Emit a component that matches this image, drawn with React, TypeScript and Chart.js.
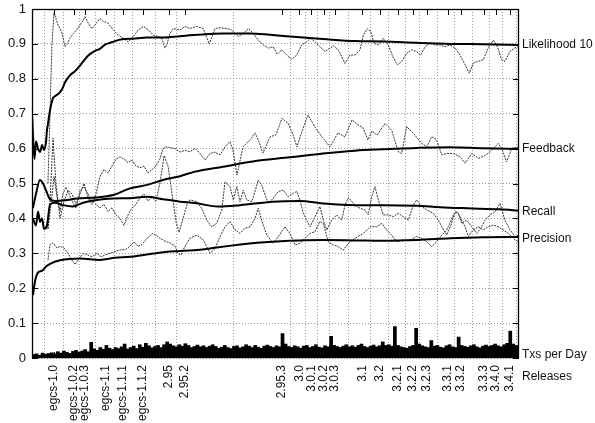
import React, { useEffect, useRef } from "react";
import { Chart, registerables } from "chart.js";

Chart.register(...registerables);

// x axis: days since 1997-08-09
const START_DATE = "1997-08-09";
const END_DAY = 2566;

const releaseNames = [
  "egcs-1.0", "egcs-1.0.2", "egcs-1.0.3", "egcs-1.1", "egcs-1.1.1", "egcs-1.1.2",
  "2.95", "2.95.2", "2.95.3", "3.0", "3.0.1", "3.0.2", "3.0.3", "3.1", "3.2",
  "3.2.1", "3.2.2", "3.2.3", "3.3.1", "3.3.2", "3.3.3", "3.4.0", "3.4.1",
];
const releaseDates = [
  "1997-12-03", "1998-03-16", "1998-05-15", "1998-09-03", "1998-12-01", "1999-03-15",
  "1999-07-31", "1999-10-24", "2001-03-16", "2001-06-18", "2001-08-20", "2001-10-25",
  "2001-12-20", "2002-05-15", "2002-08-14", "2002-11-19", "2003-02-05", "2003-04-22",
  "2003-08-08", "2003-10-17", "2004-02-14", "2004-04-18", "2004-07-01",
];

const yTickValues = [0, 0.1, 0.2, 0.3, 0.4, 0.5, 0.6, 0.7, 0.8, 0.9, 1];

// [day, value]
const likelihoodSmooth: [number, number][] = [
  [0, 0.70], [5, 0.64], [13, 0.57], [21, 0.62], [32, 0.60], [42, 0.59], [53, 0.61], [63, 0.596],
  [74, 0.62], [79, 0.653], [84, 0.67], [95, 0.71], [111, 0.745], [121, 0.75], [148, 0.762],
  [163, 0.775], [174, 0.79], [200, 0.81], [227, 0.822], [253, 0.838], [295, 0.866], [332, 0.88],
  [358, 0.886], [385, 0.898], [411, 0.903], [437, 0.908], [474, 0.913], [532, 0.915], [606, 0.918],
  [690, 0.918], [780, 0.922], [869, 0.926], [1006, 0.930], [1149, 0.930], [1254, 0.926],
  [1359, 0.921], [1533, 0.914], [1702, 0.908], [1849, 0.907], [2029, 0.903], [2203, 0.900],
  [2376, 0.899], [2566, 0.897],
];
const feedbackSmooth: [number, number][] = [
  [5, 0.43], [21, 0.47], [42, 0.51], [58, 0.50], [74, 0.48], [95, 0.455], [121, 0.45], [174, 0.452],
  [237, 0.457], [337, 0.46], [427, 0.467], [516, 0.486], [606, 0.496], [690, 0.51], [780, 0.521],
  [859, 0.534], [1006, 0.548], [1186, 0.565], [1359, 0.575], [1533, 0.586], [1702, 0.594],
  [1849, 0.598], [2029, 0.602], [2203, 0.604], [2376, 0.601], [2566, 0.599],
];
const recallSmooth: [number, number][] = [
  [5, 0.40], [21, 0.38], [32, 0.42], [42, 0.39], [53, 0.40], [63, 0.37], [79, 0.38], [95, 0.44],
  [121, 0.445], [163, 0.438], [216, 0.434], [269, 0.445], [342, 0.453], [427, 0.457], [516, 0.458],
  [606, 0.462], [690, 0.455], [780, 0.448], [859, 0.444], [980, 0.434], [1096, 0.438], [1270, 0.448],
  [1412, 0.45], [1533, 0.443], [1702, 0.438], [1849, 0.438], [2029, 0.436], [2150, 0.432],
  [2292, 0.429], [2466, 0.426], [2566, 0.422],
];
const precisionSmooth: [number, number][] = [
  [5, 0.18], [16, 0.22], [32, 0.245], [53, 0.25], [74, 0.262], [95, 0.27], [148, 0.28], [253, 0.285],
  [358, 0.281], [437, 0.287], [516, 0.29], [622, 0.298], [727, 0.305], [885, 0.31], [938, 0.314],
  [1186, 0.33], [1359, 0.336], [1533, 0.338], [1702, 0.337], [1849, 0.336], [2029, 0.338],
  [2203, 0.343], [2376, 0.346], [2566, 0.347],
];

const likelihoodRaw: [number, number][] = [
  [84, 0.50], [95, 0.70], [105, 0.90], [116, 0.99], [126, 0.973], [137, 0.954], [156, 0.935],
  [174, 0.892], [186, 0.902], [200, 0.916], [218, 0.93], [236, 0.94], [253, 0.954], [270, 0.968],
  [279, 0.978], [297, 0.959], [315, 0.944], [332, 0.954], [358, 0.973], [376, 0.964], [402, 0.959],
  [428, 0.94], [455, 0.925], [481, 0.916], [507, 0.906], [534, 0.921], [560, 0.94], [586, 0.95],
  [613, 0.94], [639, 0.925], [665, 0.921], [683, 0.916], [701, 0.888], [710, 0.897], [727, 0.93],
  [744, 0.944], [780, 0.94], [806, 0.95], [832, 0.944], [868, 0.95], [903, 0.944], [934, 0.899],
  [964, 0.944], [991, 0.946], [1026, 0.944], [1052, 0.94], [1087, 0.921], [1113, 0.93],
  [1140, 0.944], [1166, 0.93], [1192, 0.911], [1219, 0.897], [1245, 0.888], [1271, 0.892],
  [1292, 0.870], [1316, 0.883], [1342, 0.868], [1368, 0.856], [1395, 0.868], [1421, 0.897],
  [1447, 0.906], [1468, 0.916], [1491, 0.906], [1517, 0.892], [1544, 0.878], [1570, 0.888],
  [1591, 0.895], [1619, 0.878], [1649, 0.844], [1675, 0.868], [1702, 0.868], [1728, 0.883],
  [1746, 0.925], [1767, 0.944], [1785, 0.935], [1802, 0.902], [1825, 0.897], [1851, 0.916],
  [1877, 0.897], [1901, 0.864], [1925, 0.84], [1948, 0.85], [1974, 0.873], [2001, 0.883],
  [2027, 0.878], [2048, 0.868], [2071, 0.892], [2097, 0.902], [2123, 0.897], [2150, 0.897],
  [2176, 0.892], [2202, 0.897], [2229, 0.888], [2255, 0.868], [2282, 0.84], [2304, 0.816],
  [2325, 0.845], [2352, 0.85], [2378, 0.855], [2404, 0.888], [2431, 0.911], [2452, 0.892],
  [2475, 0.854], [2492, 0.85], [2518, 0.878], [2545, 0.889], [2562, 0.892],
];

const feedbackRaw: [number, number][] = [
  [84, 0.37], [95, 0.45], [111, 0.63], [126, 0.50], [148, 0.40], [169, 0.45], [190, 0.48], [211, 0.47],
  [232, 0.44], [253, 0.47], [274, 0.50], [295, 0.46], [316, 0.44], [337, 0.47], [358, 0.52],
  [379, 0.54], [400, 0.53], [421, 0.55], [443, 0.57], [464, 0.576], [485, 0.57], [506, 0.56],
  [527, 0.567], [548, 0.55], [569, 0.545], [590, 0.55], [611, 0.53], [632, 0.54], [653, 0.55],
  [674, 0.57], [690, 0.60], [706, 0.605], [727, 0.603], [754, 0.60], [780, 0.59], [806, 0.595],
  [832, 0.591], [859, 0.601], [885, 0.586], [912, 0.567], [938, 0.586], [964, 0.59], [991, 0.582],
  [1017, 0.605], [1043, 0.62], [1059, 0.596], [1080, 0.524], [1112, 0.605], [1149, 0.625],
  [1175, 0.645], [1196, 0.62], [1217, 0.587], [1254, 0.633], [1286, 0.64], [1317, 0.687],
  [1349, 0.673], [1375, 0.64], [1396, 0.605], [1423, 0.65], [1454, 0.696], [1491, 0.662],
  [1528, 0.633], [1570, 0.605], [1612, 0.645], [1649, 0.633], [1686, 0.682], [1718, 0.668],
  [1744, 0.66], [1770, 0.625], [1791, 0.65], [1818, 0.639], [1860, 0.672], [1895, 0.653],
  [1930, 0.591], [1948, 0.586], [1974, 0.663], [2009, 0.644], [2053, 0.615], [2080, 0.605],
  [2106, 0.634], [2132, 0.625], [2159, 0.582], [2185, 0.586], [2220, 0.586], [2255, 0.577],
  [2282, 0.558], [2317, 0.586], [2352, 0.572], [2387, 0.58], [2413, 0.591], [2457, 0.615],
  [2475, 0.6], [2501, 0.562], [2528, 0.601], [2562, 0.605],
];

const recallRaw: [number, number][] = [
  [84, 0.37], [100, 0.44], [116, 0.52], [132, 0.46], [148, 0.42], [163, 0.47], [179, 0.49], [195, 0.47],
  [211, 0.45], [232, 0.43], [253, 0.48], [274, 0.49], [295, 0.47], [316, 0.45], [337, 0.44],
  [358, 0.43], [379, 0.44], [400, 0.42], [421, 0.43], [443, 0.41], [464, 0.40], [485, 0.38],
  [506, 0.41], [527, 0.43], [548, 0.44], [569, 0.46], [590, 0.47], [611, 0.45], [632, 0.46],
  [653, 0.45], [674, 0.50], [696, 0.58], [717, 0.55], [738, 0.47], [759, 0.39], [775, 0.36],
  [796, 0.40], [817, 0.44], [832, 0.453], [868, 0.448], [894, 0.429], [921, 0.395], [947, 0.376],
  [973, 0.386], [1000, 0.424], [1017, 0.505], [1043, 0.491], [1061, 0.453], [1079, 0.491],
  [1096, 0.448], [1113, 0.481], [1131, 0.453], [1158, 0.448], [1175, 0.477], [1192, 0.51],
  [1210, 0.496], [1228, 0.467], [1245, 0.443], [1271, 0.458], [1298, 0.477], [1324, 0.481],
  [1350, 0.462], [1377, 0.472], [1395, 0.477], [1412, 0.453], [1429, 0.415], [1447, 0.395],
  [1465, 0.376], [1491, 0.405], [1517, 0.434], [1535, 0.395], [1553, 0.367], [1579, 0.395],
  [1605, 0.41], [1632, 0.395], [1649, 0.438], [1667, 0.46], [1702, 0.438], [1728, 0.429],
  [1755, 0.424], [1772, 0.41], [1790, 0.462], [1807, 0.491], [1825, 0.453], [1851, 0.41],
  [1877, 0.41], [1904, 0.405], [1930, 0.415], [1956, 0.405], [1983, 0.395], [2009, 0.438],
  [2027, 0.453], [2053, 0.434], [2080, 0.424], [2114, 0.415], [2141, 0.395], [2159, 0.376],
  [2185, 0.352], [2211, 0.386], [2229, 0.419], [2246, 0.415], [2264, 0.386], [2290, 0.395],
  [2317, 0.376], [2343, 0.357], [2369, 0.376], [2387, 0.395], [2413, 0.41], [2440, 0.419],
  [2466, 0.443], [2492, 0.395], [2518, 0.367], [2545, 0.348], [2562, 0.352],
];

const precisionRaw: [number, number][] = [
  [84, 0.28], [95, 0.325], [111, 0.33], [132, 0.315], [148, 0.32], [169, 0.315], [190, 0.30],
  [211, 0.28], [227, 0.268], [248, 0.285], [269, 0.30], [295, 0.295], [316, 0.29], [342, 0.30],
  [364, 0.29], [385, 0.295], [411, 0.30], [437, 0.305], [464, 0.31], [490, 0.31], [516, 0.32],
  [537, 0.333], [558, 0.32], [580, 0.325], [601, 0.34], [622, 0.35], [637, 0.357], [659, 0.35],
  [674, 0.343], [701, 0.335], [727, 0.33], [754, 0.32], [769, 0.30], [785, 0.295], [806, 0.32],
  [832, 0.343], [868, 0.352], [903, 0.338], [938, 0.30], [964, 0.314], [991, 0.348], [1017, 0.376],
  [1043, 0.391], [1070, 0.367], [1096, 0.357], [1122, 0.372], [1149, 0.376], [1175, 0.40],
  [1192, 0.429], [1210, 0.395], [1237, 0.352], [1271, 0.329], [1298, 0.348], [1333, 0.376],
  [1359, 0.357], [1386, 0.324], [1412, 0.329], [1438, 0.343], [1465, 0.357], [1491, 0.362],
  [1517, 0.391], [1535, 0.386], [1561, 0.333], [1588, 0.324], [1614, 0.319], [1640, 0.309],
  [1667, 0.329], [1702, 0.343], [1746, 0.357], [1781, 0.376], [1816, 0.376], [1843, 0.386],
  [1869, 0.367], [1895, 0.352], [1922, 0.333], [1956, 0.338], [1992, 0.338], [2027, 0.348],
  [2053, 0.343], [2080, 0.333], [2106, 0.319], [2132, 0.333], [2159, 0.352], [2185, 0.367],
  [2202, 0.386], [2220, 0.41], [2238, 0.419], [2255, 0.405], [2282, 0.376], [2299, 0.348],
  [2325, 0.367], [2352, 0.376], [2378, 0.367], [2404, 0.376], [2431, 0.381], [2457, 0.376],
  [2483, 0.367], [2510, 0.357], [2536, 0.343], [2562, 0.333],
];

// transactions per day, one value per 16-day bin
const TXS_BIN_DAYS = 16;
const txsPerDay = [
  0.010, 0.012, 0.008, 0.014, 0.011, 0.013,
  0.015, 0.012, 0.018, 0.014, 0.020, 0.016, 0.013, 0.019, 0.022, 0.017,
  0.020, 0.024, 0.018, 0.045, 0.026, 0.022, 0.030, 0.025, 0.036,
  0.028, 0.024, 0.030, 0.027, 0.032, 0.040,
  0.026, 0.030, 0.034, 0.027, 0.038, 0.031, 0.042,
  0.035, 0.029, 0.033, 0.036, 0.030, 0.038, 0.046,
  0.040, 0.035, 0.032, 0.038, 0.034, 0.041, 0.036, 0.030, 0.033, 0.037,
  0.032, 0.035, 0.030, 0.034, 0.038, 0.033, 0.028, 0.031, 0.036, 0.030,
  0.027, 0.033, 0.035, 0.029, 0.032, 0.038, 0.034, 0.030, 0.036, 0.031,
  0.028, 0.034, 0.037, 0.033, 0.030, 0.035, 0.032, 0.070,
  0.040, 0.033, 0.030, 0.035, 0.032, 0.028, 0.034, 0.036, 0.030, 0.033,
  0.038, 0.031, 0.029, 0.035, 0.032, 0.062,
  0.036, 0.033, 0.030, 0.034, 0.038, 0.032, 0.035, 0.031, 0.036, 0.040,
  0.033, 0.030, 0.034, 0.037, 0.032, 0.035, 0.046,
  0.036, 0.038, 0.034, 0.090,
  0.036, 0.032, 0.030, 0.028, 0.033, 0.036, 0.085,
  0.040, 0.035, 0.032, 0.030, 0.050,
  0.034, 0.036, 0.031, 0.029, 0.035, 0.038, 0.032, 0.030, 0.060,
  0.036, 0.033, 0.031, 0.035, 0.038, 0.032, 0.029, 0.034, 0.037, 0.033,
  0.036, 0.040, 0.035, 0.032, 0.038, 0.042, 0.077,
  0.040, 0.036,
];

const FONT = "'Liberation Sans', Arial, Helvetica, sans-serif";

function dayOf(date: string): number {
  return Math.round((Date.parse(date) - Date.parse(START_DATE)) / 86400000);
}

export default function App() {
  const ref = useRef<HTMLCanvasElement | null>(null);

  useEffect(() => {
    if (!ref.current) return;
    const releaseDays = releaseDates.map(dayOf);
    const pts = (arr: [number, number][]) => arr.map(([x, y]) => ({ x, y }));
    const lastY = (arr: [number, number][]) => arr[arr.length - 1][1];

    const smoothStyle = {
      type: "line" as const,
      borderColor: "#000",
      borderWidth: 2,
      pointRadius: 0,
      cubicInterpolationMode: "monotone" as const,
      order: 0,
    };
    const rawStyle = {
      type: "line" as const,
      borderColor: "#333",
      borderWidth: 1,
      borderDash: [2, 1],
      pointRadius: 0,
      tension: 0,
      order: 1,
    };

    const rightLabels = [
      { text: "Likelihood 10", value: lastY(likelihoodSmooth), dy: 0 },
      { text: "Feedback", value: lastY(feedbackSmooth), dy: 0 },
      { text: "Recall", value: lastY(recallSmooth), dy: 1 },
      { text: "Precision", value: lastY(precisionSmooth), dy: 2 },
    ];

    const framePlugin = {
      id: "frameTicks",
      afterDatasetsDraw(chart: any) {
        const { ctx, chartArea: a, scales } = chart;
        ctx.save();
        ctx.strokeStyle = "#000";
        ctx.lineWidth = 1;
        ctx.beginPath();
        for (const v of yTickValues) {
          const y = Math.round(scales.y.getPixelForValue(v)) + 0.5;
          ctx.moveTo(a.left, y);
          ctx.lineTo(a.left + 6, y);
          ctx.moveTo(a.right, y);
          ctx.lineTo(a.right - 6, y);
        }
        for (const d of releaseDays) {
          const x = Math.round(scales.x.getPixelForValue(d)) + 0.5;
          ctx.moveTo(x, a.top);
          ctx.lineTo(x, a.top + 6);
          ctx.moveTo(x, a.bottom);
          ctx.lineTo(x, a.bottom - 6);
        }
        ctx.stroke();
        ctx.lineWidth = 1.3;
        ctx.strokeRect(a.left + 0.5, a.top + 0.5, a.right - a.left - 1, a.bottom - a.top - 1);

        ctx.fillStyle = "#111";
        ctx.font = `12px ${FONT}`;
        ctx.textAlign = "left";
        ctx.textBaseline = "middle";
        const tx = a.right + 3;
        for (const l of rightLabels) {
          ctx.fillText(l.text, tx, scales.y.getPixelForValue(l.value) + l.dy);
        }
        ctx.fillText("Txs per Day", tx, scales.y.getPixelForValue(0) - 3);
        ctx.fillText("Releases", tx, a.bottom + 19);
        ctx.restore();
      },
    };

    const chart = new Chart(ref.current, {
      type: "line",
      data: {
        datasets: [
          { ...smoothStyle, label: "Likelihood 10", data: pts(likelihoodSmooth) },
          { ...smoothStyle, label: "Feedback", data: pts(feedbackSmooth) },
          { ...smoothStyle, label: "Recall", data: pts(recallSmooth) },
          { ...smoothStyle, label: "Precision", data: pts(precisionSmooth) },
          { ...rawStyle, label: "Likelihood 10 (window)", data: pts(likelihoodRaw) },
          { ...rawStyle, label: "Feedback (window)", data: pts(feedbackRaw) },
          { ...rawStyle, label: "Recall (window)", data: pts(recallRaw) },
          { ...rawStyle, label: "Precision (window)", data: pts(precisionRaw) },
          {
            type: "bar",
            label: "Txs per Day",
            data: txsPerDay.map((v, i) => ({ x: i * TXS_BIN_DAYS + TXS_BIN_DAYS / 2, y: v })),
            backgroundColor: "#000",
            borderWidth: 0,
            barPercentage: 1,
            categoryPercentage: 1,
            order: 2,
          } as any,
        ],
      },
      options: {
        responsive: false,
        animation: false,
        events: [],
        layout: { padding: { top: 9, right: 76, left: 0, bottom: 0 } },
        plugins: { legend: { display: false }, tooltip: { enabled: false } },
        scales: {
          x: {
            type: "linear",
            min: 0,
            max: END_DAY,
            offset: false,
            afterBuildTicks: (scale: any) => {
              scale.ticks = releaseDays.map((value) => ({ value }));
            },
            afterFit: (scale: any) => {
              scale.height = 65;
              scale.paddingLeft = 0;
              scale.paddingRight = 0;
            },
            ticks: {
              autoSkip: false,
              minRotation: 90,
              maxRotation: 90,
              padding: 7,
              color: "#111",
              font: { family: FONT, size: 12 },
              callback: (_v: any, i: number) => releaseNames[i],
            },
            grid: { color: "#9a9a9a", lineWidth: 1, drawTicks: false },
            border: { display: false, dash: [1, 2] },
          },
          y: {
            type: "linear",
            min: 0,
            max: 1,
            afterBuildTicks: (scale: any) => {
              scale.ticks = yTickValues.map((value) => ({ value }));
            },
            afterFit: (scale: any) => {
              scale.width = 32;
              scale.paddingTop = 0;
              scale.paddingBottom = 0;
            },
            ticks: {
              padding: 6,
              color: "#111",
              font: { family: FONT, size: 13 },
              callback: (v: any) => String(Math.round(Number(v) * 10) / 10),
            },
            grid: { color: "#9a9a9a", lineWidth: 1, drawTicks: false },
            border: { display: false, dash: [1, 2] },
          },
        },
      },
      plugins: [framePlugin],
    } as any);

    return () => chart.destroy();
  }, []);

  return (
    <canvas
      ref={ref}
      width={595}
      height={423}
      style={{ position: "absolute", left: 0, top: 0, display: "block", background: "#fff" }}
    />
  );
}
